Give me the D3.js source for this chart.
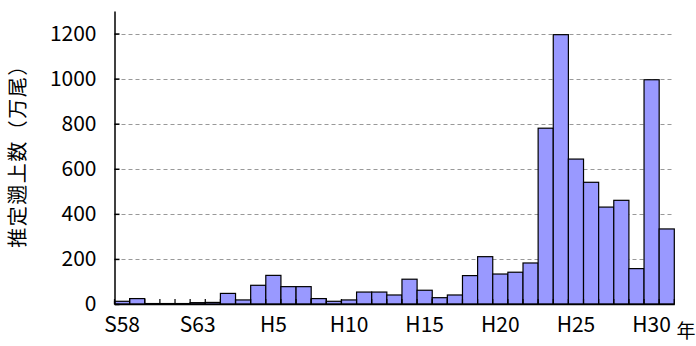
<!DOCTYPE html>
<html>
<head>
<meta charset="utf-8">
<script src="https://cdn.jsdelivr.net/npm/d3@7"></script>
<style>
  body { margin: 0; background: #fff; }
  text { font-family: "Noto Sans CJK JP", "Noto Sans", sans-serif; }
</style>
</head>
<body>
<svg id="chart"></svg>
<script>
// years S58 (1983) .. H31 (2019)
let years = ['S58','S59','S60','S61','S62','S63',
  'H1','H2','H3','H4','H5','H6','H7','H8','H9','H10',
  'H11','H12','H13','H14','H15','H16','H17','H18','H19','H20',
  'H21','H22','H23','H24','H25','H26','H27','H28','H29','H30','H31'];

let catches = [12, 24, 2, 2, 2, 6,
  7, 47, 18, 83, 127, 77, 77, 24, 12, 18,
  53, 53, 40, 110, 61, 28, 40, 126, 210, 133,
  141, 182, 780, 1195, 643, 540, 430, 460, 157, 995, 333];

let shownLabels = ['S58','S63','H5','H10','H15','H20','H25','H30'];
let yTicks = [0, 200, 400, 600, 800, 1000, 1200];

let w = 696, h = 346;
let plotLeft = 114.5, plotRight = 674.3, plotTop = 11, plotBottom = 304;

let chart = d3.select('#chart')
  .attr('width', w)
  .attr('height', h);

let xScale = d3.scaleBand()
  .domain(years)
  .range([plotLeft, plotRight])
  .padding(0);

let yScale = d3.scaleLinear()
  .domain([0, 1300])
  .range([plotBottom, plotTop]);

// dashed grid lines
chart.append('g')
  .selectAll('line')
  .data(yTicks.filter(d => d > 0))
  .enter()
  .append('line')
  .attr('x1', plotLeft)
  .attr('x2', plotRight)
  .attr('y1', d => Math.round(yScale(d)) + 0.5)
  .attr('y2', d => Math.round(yScale(d)) + 0.5)
  .attr('stroke', '#999')
  .attr('stroke-width', 1.2)
  .attr('stroke-dasharray', '4,3');

// bars
chart.append('g')
  .selectAll('rect')
  .data(catches)
  .enter()
  .append('rect')
  .attr('x', (d, i) => xScale(years[i]))
  .attr('y', d => yScale(d))
  .attr('width', xScale.bandwidth())
  .attr('height', d => plotBottom - yScale(d))
  .attr('fill', '#9999ff')
  .attr('stroke', '#000')
  .attr('stroke-width', 1.2);

// inward ticks on category boundaries
chart.append('g')
  .selectAll('line')
  .data(years.concat(['end']))
  .enter()
  .append('line')
  .attr('x1', d => d === 'end' ? plotRight : xScale(d))
  .attr('x2', d => d === 'end' ? plotRight : xScale(d))
  .attr('y1', plotBottom)
  .attr('y2', plotBottom - 5)
  .attr('stroke', '#000')
  .attr('stroke-width', 1.2);

// AXES
let yAxis = chart.append('g')
  .attr('transform', `translate(${plotLeft},0)`)
  .call(d3.axisLeft(yScale)
    .tickValues(yTicks)
    .tickFormat(d3.format('d'))
    .tickSizeInner(-5)
    .tickSizeOuter(0)
    .tickPadding(18));
yAxis.select('.domain').attr('stroke', '#000').attr('stroke-width', 1.5);
yAxis.selectAll('line').attr('stroke-width', 1.5);
yAxis.selectAll('text')
  .attr('font-size', 21)
  .attr('fill', '#000')
  .style('font-family', '"Noto Sans CJK JP", sans-serif');

let xAxis = chart.append('g')
  .attr('transform', `translate(0,${plotBottom})`)
  .call(d3.axisBottom(xScale)
    .tickValues(shownLabels)
    .tickSize(0)
    .tickPadding(13));
xAxis.select('.domain').attr('stroke', '#000').attr('stroke-width', 1.5);
xAxis.selectAll('text')
  .attr('font-size', 21)
  .attr('fill', '#000')
  .style('font-family', '"Noto Sans CJK JP", sans-serif');

chart.append('text')
  .attr('x', 686)
  .attr('y', 338)
  .attr('text-anchor', 'middle')
  .attr('font-size', 19)
  .text('年');

chart.append('text')
  .attr('transform', 'translate(25,151) rotate(-90)')
  .attr('text-anchor', 'middle')
  .attr('font-size', 20)
  .attr('letter-spacing', 1.5)
  .text('推定遡上数（万尾）');
</script>
</body>
</html>
